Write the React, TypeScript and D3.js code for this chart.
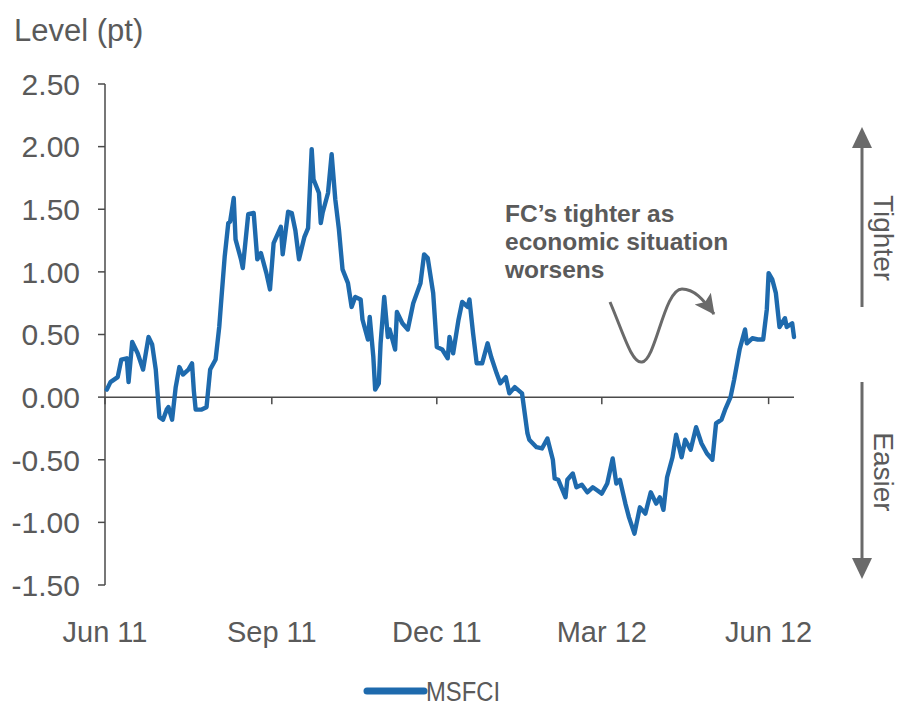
import React from 'react';
import * as d3 from 'd3';

const START_DATE = '2011-06-01';
const END_DATE = '2012-06-15';

// days since START_DATE
const dayOffsets = [
  1, 3, 7, 9, 12, 13, 15, 18, 21, 24,
  26, 28, 30, 32, 34, 35, 37, 39, 41, 43,
  46, 48, 49, 50, 53, 56, 58, 61, 63, 64,
  66, 68, 69, 71, 72, 75, 76, 79, 82, 84,
  86, 89, 91, 93, 97, 98, 101, 103, 105, 107,
  110, 112, 114, 115, 118, 119, 120, 123, 125, 127,
  129, 131, 134, 136, 138, 141, 142, 145, 146, 148,
  149, 151, 152, 154, 156, 157, 160, 161, 164, 167,
  170, 174, 176, 178, 181, 183, 186, 189, 190, 192,
  195, 197, 200, 201, 203, 205, 208, 211, 213, 216,
  218, 221, 223, 226, 230, 233, 234, 238, 241, 244,
  247, 248, 250, 254, 255, 258, 260, 263, 266, 269,
  271, 274, 277, 280, 282, 284, 287, 289, 292, 295,
  298, 301, 304, 306, 308, 310, 313, 315, 318, 320,
  323, 326, 329, 332, 335, 337, 340, 342, 345, 347,
  350, 353, 354, 357, 360, 363, 365, 366, 368, 370,
  372, 375, 376, 379, 380,
];

const msfci = [
  0.06, 0.12, 0.16, 0.30, 0.31, 0.12, 0.44, 0.35, 0.22, 0.48,
  0.42, 0.22, -0.16, -0.18, -0.10, -0.08, -0.18, 0.08, 0.24, 0.18,
  0.22, 0.27, 0.05, -0.10, -0.10, -0.08, 0.22, 0.30, 0.56, 0.75,
  1.12, 1.39, 1.40, 1.59, 1.26, 1.10, 1.03, 1.46, 1.47, 1.10,
  1.15, 0.99, 0.86, 1.23, 1.36, 1.14, 1.48, 1.47, 1.33, 1.10,
  1.28, 1.35, 1.98, 1.74, 1.63, 1.39, 1.47, 1.63, 1.94, 1.58,
  1.34, 1.02, 0.91, 0.72, 0.80, 0.78, 0.62, 0.46, 0.64, 0.32,
  0.06, 0.11, 0.43, 0.80, 0.48, 0.54, 0.38, 0.68, 0.59, 0.54,
  0.75, 0.91, 1.14, 1.11, 0.83, 0.40, 0.38, 0.31, 0.48, 0.35,
  0.62, 0.76, 0.72, 0.78, 0.51, 0.27, 0.27, 0.43, 0.32, 0.19,
  0.11, 0.16, 0.03, 0.08, 0.03, -0.29, -0.34, -0.40, -0.41, -0.33,
  -0.50, -0.65, -0.66, -0.80, -0.66, -0.61, -0.72, -0.70, -0.76, -0.72,
  -0.74, -0.77, -0.69, -0.49, -0.69, -0.66, -0.85, -0.96, -1.09, -0.88,
  -0.93, -0.76, -0.85, -0.80, -0.90, -0.64, -0.48, -0.30, -0.48, -0.34,
  -0.42, -0.24, -0.37, -0.45, -0.50, -0.21, -0.18, -0.10, 0.00, 0.14,
  0.38, 0.54, 0.43, 0.47, 0.46, 0.46, 0.70, 0.99, 0.94, 0.83,
  0.56, 0.63, 0.56, 0.59, 0.48,
];

const yTicks = [-1.5, -1.0, -0.5, 0, 0.5, 1.0, 1.5, 2.0, 2.5];
const xTickDates = ['2011-06-01', '2011-09-01', '2011-12-01', '2012-03-01', '2012-06-01'];
const xTickLabels = ['Jun 11', 'Sep 11', 'Dec 11', 'Mar 12', 'Jun 12'];
const annotationLines = ['FC\u2019s tighter as', 'economic situation', 'worsens'];
const seriesName = 'MSFCI';
const yTitle = 'Level (pt)';
const sideLabels = ['Tighter', 'Easier'];

const FONT = '"Liberation Sans", Arial, sans-serif';
const TEXT = '#5a5a5a';
const AXIS = '#4a4a4a';
const BLUE = '#1e6aad';

export default function App() {
  const parse = d3.utcParse('%Y-%m-%d');
  const start = parse(START_DATE) as Date;
  const end = parse(END_DATE) as Date;

  const x = d3.scaleUtc().domain([start, end]).range([105, 794]);
  const y = d3.scaleLinear().domain([-1.5, 2.5]).range([585, 84]);

  const data = dayOffsets.map((d, i) => ({ date: d3.utcDay.offset(start, d), v: msfci[i] }));
  const lineGen = d3
    .line<{ date: Date; v: number }>()
    .x((d) => x(d.date))
    .y((d) => y(d.v));

  const x0 = x.range()[0];
  const x1 = x.range()[1];
  const yZero = y(0);

  return (
    <div style={{ position: 'absolute', left: 0, top: 0 }}>
      <svg width={901} height={706} style={{ display: 'block', background: '#fff' }}>
        <defs>
          <marker
            id="wave-head"
            markerUnits="userSpaceOnUse"
            markerWidth={24}
            markerHeight={24}
            refX={19}
            refY={10}
            orient="auto"
          >
            <path d="M0,0 L20,10 L0,20 L4,10 Z" fill="#6a6a6a" />
          </marker>
        </defs>

        {/* Y title */}
        <text x={14} y={41} fontFamily={FONT} fontSize={31} fill={TEXT}>
          {yTitle}
        </text>

        {/* Y axis */}
        <line x1={x0} x2={x0} y1={y(2.5)} y2={y(-1.5)} stroke={AXIS} strokeWidth={1.5} />
        {yTicks.map((t) => (
          <g key={t}>
            <line x1={x0 - 7} x2={x0} y1={y(t)} y2={y(t)} stroke={AXIS} strokeWidth={1.5} />
            <text
              x={80}
              y={y(t)}
              dy="0.36em"
              textAnchor="end"
              fontFamily={FONT}
              fontSize={30}
              fill={TEXT}
            >
              {t.toFixed(2)}
            </text>
          </g>
        ))}

        {/* X axis at zero */}
        <line x1={x0} x2={x1} y1={yZero} y2={yZero} stroke={AXIS} strokeWidth={1.5} />
        {xTickDates.map((d, i) => {
          const xx = x(parse(d) as Date);
          return (
            <g key={d}>
              <line x1={xx} x2={xx} y1={yZero} y2={yZero + 7} stroke={AXIS} strokeWidth={1.5} />
              <text
                x={xx}
                y={642}
                textAnchor="middle"
                fontFamily={FONT}
                fontSize={29}
                fill={TEXT}
              >
                {xTickLabels[i]}
              </text>
            </g>
          );
        })}

        {/* Series */}
        <path
          d={lineGen(data) || ''}
          fill="none"
          stroke={BLUE}
          strokeWidth={4.4}
          strokeLinejoin="round"
          strokeLinecap="round"
        />

        {/* Annotation */}
        {annotationLines.map((s, i) => (
          <text
            key={s}
            x={505}
            y={222 + i * 28}
            fontFamily={FONT}
            fontSize={24.5}
            fontWeight="bold"
            fill={TEXT}
          >
            {s}
          </text>
        ))}
        <path
          d="M610,302 C624,335 632,364 642,362 C656,360 664,289 682,289 C694,289 703,299 714,314"
          fill="none"
          stroke="#6a6a6a"
          strokeWidth={3}
          markerEnd="url(#wave-head)"
        />

        {/* Right side arrows */}
        <line x1={862} x2={862} y1={145} y2={307} stroke="#6a6a6a" strokeWidth={3} />
        <path d="M862,127 L872,148 L852,148 Z" fill="#6a6a6a" />
        <line x1={862} x2={862} y1={382} y2={560} stroke="#6a6a6a" strokeWidth={3} />
        <path d="M862,579 L872,558 L852,558 Z" fill="#6a6a6a" />
        <text
          transform="translate(874,238) rotate(90)"
          textAnchor="middle"
          fontFamily={FONT}
          fontSize={28}
          fill={TEXT}
        >
          {sideLabels[0]}
        </text>
        <text
          transform="translate(874,472) rotate(90)"
          textAnchor="middle"
          fontFamily={FONT}
          fontSize={28}
          fill={TEXT}
        >
          {sideLabels[1]}
        </text>

        {/* Legend */}
        <line x1={367} x2={424} y1={691} y2={691} stroke={BLUE} strokeWidth={7} strokeLinecap="round" />
        <text
          x={426}
          y={701}
          fontFamily={FONT}
          fontSize={27}
          fill={TEXT}
          textLength={74}
          lengthAdjust="spacingAndGlyphs"
        >
          {seriesName}
        </text>
      </svg>
    </div>
  );
}
